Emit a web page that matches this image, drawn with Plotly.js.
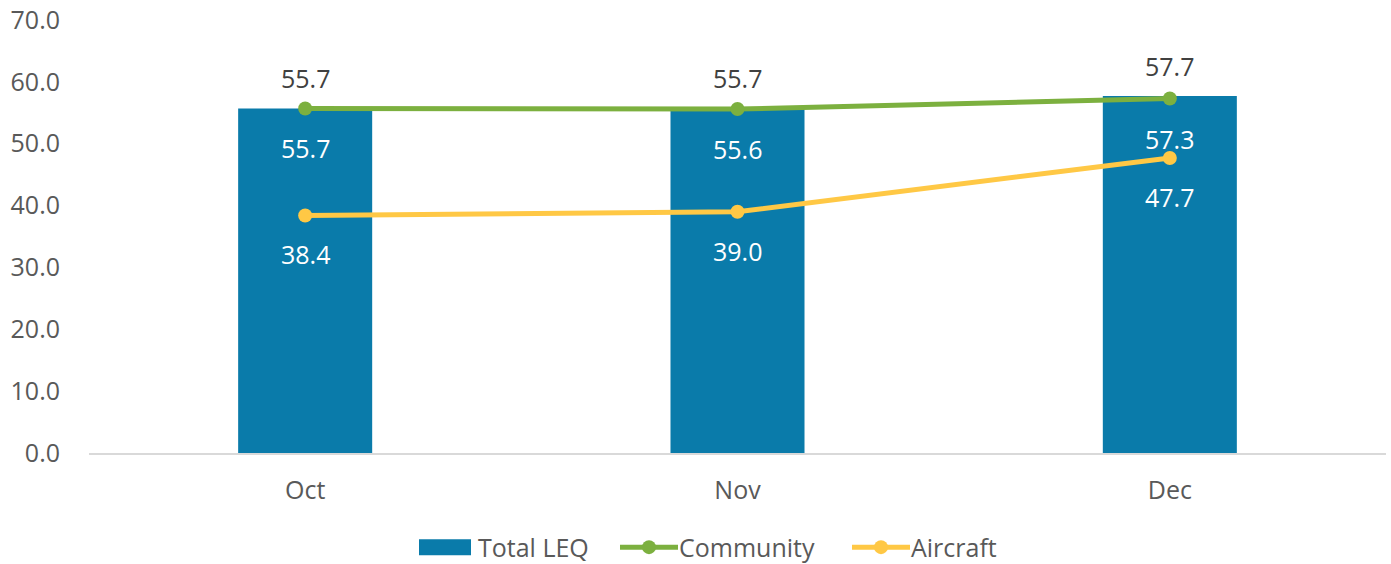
<!DOCTYPE html>
<html>
<head>
<meta charset="utf-8">
<script src="https://cdn.plot.ly/plotly-3.0.1.min.js"></script>
<style>
  html, body { margin: 0; padding: 0; background: #fff; }
  #chart { width: 1391px; height: 564px; }
</style>
</head>
<body>
<div id="chart"></div>
<script>
// dados
const months = ['Oct', 'Nov', 'Dec'];
const totalLeq = [55.7, 55.7, 57.7];
const community = [55.7, 55.6, 57.3];
const aircraft = [38.4, 39.0, 47.7];
const yTicks = [0, 10, 20, 30, 40, 50, 60, 70];

const FONT = 'Open Sans, Liberation Sans, sans-serif';

const traceTotal = {
    type: 'bar',
    name: 'Total LEQ',
    x: months,
    y: totalLeq,
    width: 0.31,
    marker: { color: '#0A7BAA' },
    hoverinfo: 'skip'
};

const traceCommunity = {
    type: 'scatter',
    mode: 'lines+markers',
    name: 'Community',
    x: months,
    y: community,
    line: { color: '#7CB03F', width: 5 },
    marker: { color: '#7CB03F', size: 14 },
    hoverinfo: 'skip'
};

const traceAircraft = {
    type: 'scatter',
    mode: 'lines+markers',
    name: 'Aircraft',
    x: months,
    y: aircraft,
    line: { color: '#FFC845', width: 5 },
    marker: { color: '#FFC845', size: 14 },
    hoverinfo: 'skip'
};

// rótulos de dados
function rotulos(values, shift, color) {
    return values.map((v, i) => ({
        x: months[i], y: v, text: v.toFixed(1),
        showarrow: false, yshift: shift,
        font: { family: FONT, size: 25, color: color }
    }));
}

const annotations = [
    ...rotulos(totalLeq, 30, '#404040'),
    ...rotulos(community, -40, '#ffffff'),
    ...rotulos(aircraft, -39, '#ffffff')
];

const layout = {
    width: 1391,
    height: 564,
    margin: { l: 89, r: 5, t: 20, b: 111, autoexpand: false },
    paper_bgcolor: '#fff',
    plot_bgcolor: '#fff',
    font: { family: FONT, size: 25, color: '#595959' },
    xaxis: {
        type: 'category',
        range: [-0.5, 2.5],
        showline: true,
        linecolor: '#D9D9D9',
        linewidth: 2,
        showgrid: false,
        ticks: '',
        ticklabelstandoff: 14,
        tickfont: { family: FONT, size: 25, color: '#595959' }
    },
    yaxis: {
        range: [0, 70],
        tickvals: yTicks,
        ticktext: yTicks.map(v => v.toFixed(1)),
        showgrid: false,
        showline: false,
        zeroline: false,
        ticks: '',
        ticklabelstandoff: 28,
        tickfont: { family: FONT, size: 25, color: '#595959' }
    },
    showlegend: true,
    legend: {
        orientation: 'h',
        x: 0.5, xanchor: 'center',
        y: -0.218, yanchor: 'middle',
        font: { family: FONT, size: 25, color: '#595959' },
        itemwidth: 48,
        tracegroupgap: 0
    },
    annotations: annotations
};

// posição (x absoluto) de cada item da legenda, como no original
const legendaX = [414, 615, 847];

function ajustaLegenda() {
    const leg = document.querySelector('.legend');
    if (!leg) return;
    const re = /translate\(\s*([-\d.e]+)[ ,]+([-\d.e]+)\s*\)/;
    const m = re.exec(leg.getAttribute('transform') || '');
    const lx = m ? parseFloat(m[1]) : 0;
    leg.querySelectorAll('[clip-path]').forEach(e => e.removeAttribute('clip-path'));
    leg.querySelectorAll('.traces').forEach((g, i) => {
        const t = re.exec(g.getAttribute('transform') || '');
        const ty = t ? parseFloat(t[2]) : 0;
        g.setAttribute('transform', `translate(${legendaX[i] - lx},${ty})`);
        g.querySelectorAll('.legendlines path').forEach(p => p.setAttribute('d', 'M5,0h58'));
        g.querySelectorAll('.legendpoints path').forEach(p => {
            if (i === 0) {
                p.setAttribute('d', 'M5,8H57V-8H5Z');
                p.removeAttribute('transform');
            } else {
                p.setAttribute('transform', 'translate(34,0)');
            }
        });
        const txt = g.querySelector('.legendtext');
        if (txt) txt.setAttribute('x', 64);
    });
}

Plotly.newPlot('chart', [traceTotal, traceCommunity, traceAircraft], layout, { displayModeBar: false, staticPlot: true })
    .then(ajustaLegenda);
</script>
</body>
</html>
